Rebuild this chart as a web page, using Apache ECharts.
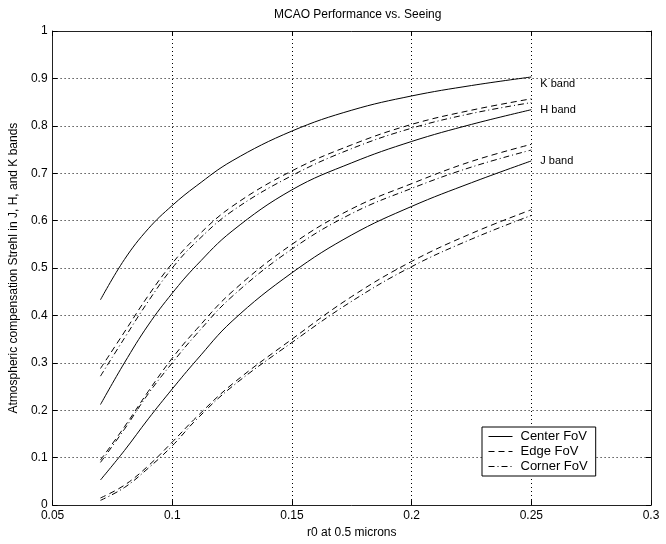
<!DOCTYPE html>
<html>
<head>
<meta charset="utf-8">
<script src="https://cdn.jsdelivr.net/npm/echarts@6/dist/echarts.min.js"></script>
<style>
html,body{margin:0;padding:0;background:#fff;}
#c{width:666px;height:544px;}
</style>
</head>
<body>
<div id="c"></div>
<script>
var r0 = [0.07, 0.08, 0.09, 0.10, 0.11, 0.125, 0.15, 0.175, 0.20, 0.225, 0.25];

var kCenter = [0.433, 0.518, 0.583, 0.632, 0.673, 0.726, 0.789, 0.833, 0.863, 0.885, 0.903];
var kEdge   = [0.288, 0.365, 0.442, 0.510, 0.565, 0.630, 0.705, 0.760, 0.803, 0.833, 0.857];
var kCorner = [0.272, 0.352, 0.430, 0.500, 0.555, 0.620, 0.695, 0.752, 0.795, 0.826, 0.849];

var hCenter = [0.212, 0.300, 0.380, 0.447, 0.505, 0.578, 0.665, 0.722, 0.767, 0.803, 0.834];
var hEdge   = [0.095, 0.165, 0.240, 0.310, 0.370, 0.450, 0.550, 0.625, 0.678, 0.725, 0.761];
var hCorner = [0.090, 0.160, 0.235, 0.300, 0.360, 0.440, 0.540, 0.615, 0.668, 0.713, 0.749];

var jCenter = [0.053, 0.115, 0.182, 0.245, 0.305, 0.388, 0.490, 0.570, 0.630, 0.680, 0.726];
var jEdge   = [0.015, 0.042, 0.083, 0.133, 0.185, 0.255, 0.350, 0.440, 0.514, 0.573, 0.623];
var jCorner = [0.010, 0.037, 0.078, 0.125, 0.180, 0.250, 0.343, 0.430, 0.503, 0.561, 0.611];

var bandLabels = ['K band', 'H band', 'J band'];
var fovNames = ['Center FoV', 'Edge FoV', 'Corner FoV'];

var FONT = 'Liberation Sans, Arial, Helvetica, sans-serif';
var dashTypes = ['solid', [6, 4], [6, 3, 1, 3]];

function pairs(ys) { return r0.map(function (x, i) { return [x, ys[i]]; }); }

var groups = [
  [kCenter, kEdge, kCorner],
  [hCenter, hEdge, hCorner],
  [jCenter, jEdge, jCorner]
];
var labelOffsets = [[1, 7], [1, 0], [1, 0]];

var series = [];
groups.forEach(function (g, bi) {
  g.forEach(function (ys, fi) {
    var s = {
      type: 'line',
      name: fovNames[fi],
      data: pairs(ys),
      showSymbol: false,
      symbol: 'none',
      smooth: 0.4,
      silent: true,
      animation: false,
      lineStyle: { color: '#000', width: 1, type: dashTypes[fi] },
      itemStyle: { color: '#000' }
    };
    if (fi === 0) {
      s.endLabel = {
        show: true,
        formatter: bandLabels[bi],
        color: '#000',
        fontFamily: FONT,
        fontSize: 11,
        offset: labelOffsets[bi]
      };
    }
    series.push(s);
  });
});

var gridLine = { show: true, lineStyle: { color: '#000', width: 1, type: [1, 3] } };
var axisLineStyle = { show: true, onZero: false, lineStyle: { color: '#222', width: 1 } };
var labelStyle = { color: '#000', fontFamily: FONT, fontSize: 12 };

var chart = echarts.init(document.getElementById('c'), null, { renderer: 'canvas' });
chart.setOption({
  backgroundColor: '#fff',
  animation: false,
  title: {
    text: 'MCAO Performance vs. Seeing',
    left: 269,
    top: 4,
    textStyle: { color: '#000', fontFamily: FONT, fontSize: 12, fontWeight: 'normal' }
  },
  legend: {
    data: fovNames,
    orient: 'vertical',
    left: 482,
    top: 427,
    padding: [3, 8, 3, 6],
    itemGap: 2,
    itemWidth: 24,
    itemHeight: 14,
    borderColor: '#000',
    borderWidth: 1,
    backgroundColor: '#fff',
    selectedMode: false,
    itemStyle: { opacity: 0 },
    lineStyle: { width: 1, color: '#000', opacity: 1 },
    textStyle: { color: '#000', fontFamily: FONT, fontSize: 13, padding: [0, 0, 0, 3] }
  },
  grid: { left: 52, right: 15, top: 31, bottom: 37, containLabel: false },
  xAxis: [{
    type: 'value', min: 0.05, max: 0.3, interval: 0.05,
    name: 'r0 at 0.5 microns', nameLocation: 'middle', nameGap: 19,
    nameTextStyle: { color: '#000', fontFamily: FONT, fontSize: 12 },
    axisLine: axisLineStyle,
    axisTick: { show: true, inside: true, length: 5, lineStyle: { color: '#000' } },
    axisLabel: Object.assign({ margin: 5, formatter: function (v) { return String(+v.toFixed(2)); } }, labelStyle),
    splitLine: gridLine
  }, {
    type: 'value', min: 0.05, max: 0.3, interval: 0.05, position: 'top',
    axisLine: axisLineStyle,
    axisTick: { show: true, inside: true, length: 5, lineStyle: { color: '#000' } },
    axisLabel: { show: false },
    splitLine: { show: false }
  }],
  yAxis: [{
    type: 'value', min: 0, max: 1, interval: 0.1,
    name: 'Atmospheric compensation Strehl in J, H, and K bands',
    nameLocation: 'middle', nameGap: 30,
    nameTextStyle: { color: '#000', fontFamily: FONT, fontSize: 12 },
    axisLine: axisLineStyle,
    axisTick: { show: true, inside: true, length: 5, lineStyle: { color: '#000' } },
    axisLabel: Object.assign({ margin: 5, formatter: function (v) { return String(+v.toFixed(1)); } }, labelStyle),
    splitLine: gridLine
  }, {
    type: 'value', min: 0, max: 1, interval: 0.1, position: 'right',
    axisLine: axisLineStyle,
    axisTick: { show: true, inside: true, length: 5, lineStyle: { color: '#000' } },
    axisLabel: { show: false },
    splitLine: { show: false }
  }],
  series: series
});
</script>
</body>
</html>
